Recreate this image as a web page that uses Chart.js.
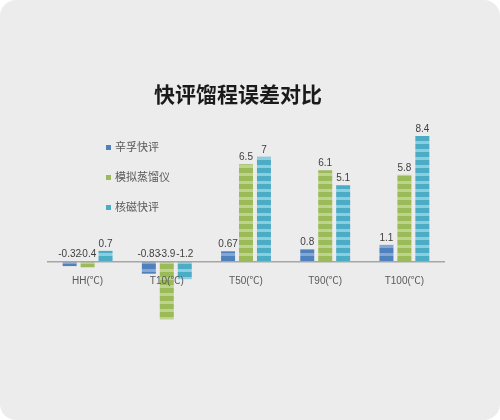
<!DOCTYPE html>
<html lang="zh">
<head>
    <meta charset="UTF-8">
    <title>快评馏程误差对比</title>
    <script src="https://cdn.jsdelivr.net/npm/chart.js"></script>
    <style>
        body {
            margin: 0;
            background: #ffffff;
        }
        #panel {
            position: relative;
            width: 500px;
            height: 420px;
            background: #ececec;
            border-radius: 16px;
            overflow: hidden;
        }
        canvas {
            position: absolute;
            left: 0;
            top: 0;
        }
    </style>
</head>
<body>
    <div id="panel">
        <canvas id="errChart" width="500" height="420"></canvas>
    </div>
    <script>
        const categories = ["HH(℃)", "T10(℃)", "T50(℃)", "T90(℃)", "T100(℃)"];
        const seriesNames = ["辛孚快评", "模拟蒸馏仪", "核磁快评"];
        const xinfuValues = [-0.32, -0.83, 0.67, 0.8, 1.1];
        const simDistValues = [-0.4, -3.9, 6.5, 6.1, 5.8];
        const nmrValues = [0.7, -1.2, 7, 5.1, 8.4];
        const valueLabels = [
            ["-0.32", "-0.83", "0.67", "0.8", "1.1"],
            ["-0.4", "-3.9", "6.5", "6.1", "5.8"],
            ["0.7", "-1.2", "7", "5.1", "8.4"]
        ];
        const chartTitle = "快评馏程误差对比";

        const baseFont = '"Liberation Sans", "Noto Sans CJK SC", sans-serif';
        const solidColors = ["#4f81bd", "#9bbb59", "#4bacc6"];
        const stripeColors = ["#86a6d6", "#bed38f", "#8dcde0"];

        // 横条纹填充
        function stripes(base, light) {
            const c = document.createElement("canvas");
            c.width = 4;
            c.height = 8;
            const g = c.getContext("2d");
            g.fillStyle = base;
            g.fillRect(0, 0, 4, 8);
            g.fillStyle = light;
            g.fillRect(0, 5, 4, 3);
            return g.createPattern(c, "repeat");
        }

        const valueLabelPlugin = {
            id: "valueLabels",
            afterDatasetsDraw(chart) {
                const ctx = chart.ctx;
                ctx.save();
                ctx.font = "10px " + baseFont;
                ctx.fillStyle = "#404040";
                ctx.textAlign = "center";
                ctx.textBaseline = "bottom";
                chart.data.datasets.forEach((ds, i) => {
                    chart.getDatasetMeta(i).data.forEach((bar, j) => {
                        const top = Math.min(bar.y, bar.base);
                        ctx.fillText(valueLabels[i][j], bar.x, top - 2);
                    });
                });
                ctx.restore();
            }
        };

        // 标题和左侧图例
        const headerPlugin = {
            id: "header",
            afterDraw(chart) {
                const ctx = chart.ctx;
                ctx.save();
                ctx.font = "bold 21px " + baseFont;
                ctx.fillStyle = "#1a1a1a";
                ctx.textAlign = "center";
                ctx.textBaseline = "middle";
                ctx.fillText(chartTitle, 238, 96);

                ctx.font = "11px " + baseFont;
                ctx.textAlign = "left";
                seriesNames.forEach((name, i) => {
                    const y = 148 + i * 30;
                    ctx.fillStyle = solidColors[i];
                    ctx.fillRect(106, y - 3, 5, 5);
                    ctx.fillStyle = "#595959";
                    ctx.fillText(name, 115, y);
                });
                ctx.restore();
            }
        };

        const allValues = [xinfuValues, simDistValues, nmrValues];
        const ctx = document.getElementById("errChart").getContext("2d");
        new Chart(ctx, {
            type: "bar",
            data: {
                labels: categories,
                datasets: seriesNames.map((name, i) => ({
                    label: name,
                    data: allValues[i],
                    backgroundColor: stripes(solidColors[i], stripeColors[i]),
                    borderWidth: 0,
                    barPercentage: 0.78,
                    categoryPercentage: 0.68
                }))
            },
            options: {
                responsive: false,
                animation: false,
                layout: {
                    padding: { left: 48, right: 56, top: 127, bottom: 99 }
                },
                scales: {
                    x: {
                        position: { y: 0 },
                        grid: { display: false, drawTicks: false },
                        border: { display: true, color: "#a6a6a6", width: 1.5, z: 1 },
                        ticks: {
                            z: 1,
                            padding: 14,
                            color: "#595959",
                            font: { family: baseFont, size: 10 }
                        }
                    },
                    y: {
                        display: false,
                        min: -4,
                        max: 9
                    }
                },
                plugins: {
                    legend: { display: false },
                    tooltip: { enabled: false },
                    title: { display: false }
                }
            },
            plugins: [valueLabelPlugin, headerPlugin]
        });
    </script>
</body>
</html>
